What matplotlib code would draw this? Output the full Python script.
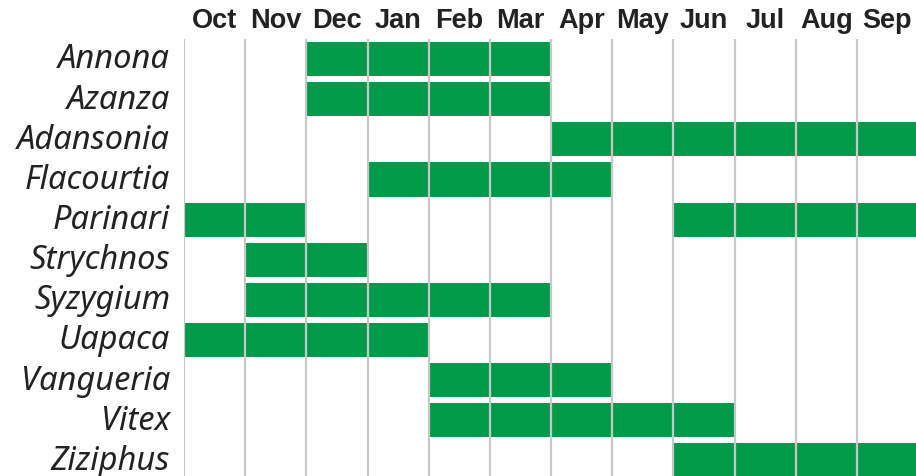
import matplotlib
matplotlib.use("Agg")
import matplotlib.pyplot as plt
import matplotlib.transforms as mtransforms

# Fruiting season per genus, as (first month index, number of months), Oct = 0
months = ["Oct", "Nov", "Dec", "Jan", "Feb", "Mar",
          "Apr", "May", "Jun", "Jul", "Aug", "Sep"]
genera = ["Annona", "Azanza", "Adansonia", "Flacourtia", "Parinari",
          "Strychnos", "Syzygium", "Uapaca", "Vangueria", "Vitex", "Ziziphus"]
seasons = [
    [(2, 4)],
    [(2, 4)],
    [(6, 6)],
    [(3, 4)],
    [(0, 2), (8, 4)],
    [(1, 2)],
    [(1, 5)],
    [(0, 4)],
    [(4, 3)],
    [(4, 5)],
    [(8, 4)],
]

green = "#009a4a"
grid = "#c8c8c8"

fig = plt.figure(figsize=(9.16, 4.77), dpi=100)
ax = fig.add_axes([184 / 916, 1 - 481.6 / 477, 734 / 916, 441.6 / 477])

for i, spans in enumerate(seasons):
    ax.broken_barh(spans, (i - 0.425, 0.85), facecolors=green, zorder=2)

for m in range(len(months) + 1):
    ax.axvline(m, color=grid, lw=1.6, zorder=3)

ax.set_xlim(0, len(months))
ax.set_ylim(len(genera) - 0.5, -0.5)

ax.set_yticks(range(len(genera)))
ax.set_yticklabels(genera, fontsize=23.5, style="italic", family="Noto Sans",
                   color="#222222")
ax.set_xticks([m + 0.5 for m in range(len(months))])
ax.set_xticklabels(months, fontsize=19.5, fontweight="bold",
                   family="Liberation Sans", color="#222222")
ax.xaxis.tick_top()
ax.tick_params(axis="both", length=0)
ax.tick_params(axis="x", pad=4)
ax.tick_params(axis="y", pad=10)

# nudge the genus names up a little, as in the original
shift = mtransforms.ScaledTranslation(0, 3 / 72, fig.dpi_scale_trans)
for lbl in ax.get_yticklabels():
    lbl.set_transform(lbl.get_transform() + shift)

for s in ax.spines.values():
    s.set_visible(False)

fig.savefig("out.png", dpi=100)
